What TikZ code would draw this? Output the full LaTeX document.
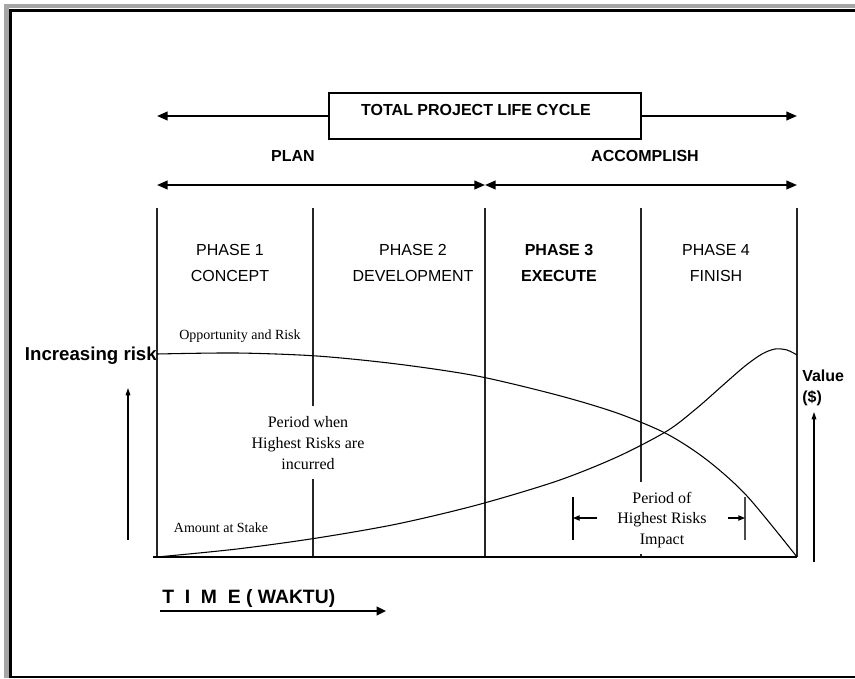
\documentclass[tikz,border=0pt]{standalone}
\usepackage{fontspec}
\setmainfont{Liberation Serif}
\newfontfamily\arialfont{Liberation Sans}
\usetikzlibrary{arrows.meta}

\begin{document}
\begin{tikzpicture}[x=0.75pt,y=-0.75pt,
  thinline/.style={line width=0.8pt},
  phaseline/.style={line width=0.8pt, black!85},
  curveline/.style={line width=0.8pt},
  lifearrow/.style={line width=1.5pt, -{Triangle[length=8pt,width=6.5pt]}},
  twinarrow/.style={line width=1.5pt, {Triangle[length=8pt,width=6.5pt]}-{Triangle[length=8pt,width=6.5pt]}},
  axisarrow/.style={line width=0.8pt, -{Triangle[length=5.5pt,width=3.5pt]}},
  dimarrow/.style={line width=0.8pt, -{Triangle[length=5pt,width=4pt]}},
  headtext/.style={font=\arialfont\bfseries\fontsize{12}{14}\selectfont, inner sep=0pt},
  phasetext/.style={font=\arialfont\fontsize{12}{19.5}\selectfont, align=center, inner sep=0pt},
  notetext/.style={font=\fontsize{12}{15.4}\selectfont, align=center, inner sep=0pt},
  smalltext/.style={font=\fontsize{10.5}{12}\selectfont, inner sep=0pt},
]
\useasboundingbox (0,0) rectangle (855,678);

% page frame
\fill[gray!70] (4,4) rectangle (855,8);
\fill[gray!70] (4,4) rectangle (9,678);
\draw[line width=2.2pt] (10.5,678) -- (10.5,10.5) -- (855,10.5);
\draw[line width=1.5pt] (9,677) -- (855,677);

% total project life cycle
\node[draw, thinline, minimum width=234pt, minimum height=34.5pt, inner sep=0pt] (tplc) at (485,116) {};
\node[headtext] (tplctext) at (476,110) {TOTAL PROJECT LIFE CYCLE};
\coordinate (lifeL) at (157,116);
\coordinate (lifeR) at (797,116);
\draw[lifearrow] (tplc.west) -- (lifeL);
\draw[lifearrow] (tplc.east) -- (lifeR);

% plan / accomplish
\node[headtext] (plan) at (293,156) {PLAN};
\node[headtext] (accomplish) at (645,156) {ACCOMPLISH};
\coordinate (paL) at (157,185);
\coordinate (paM) at (485,185);
\coordinate (paR) at (797,185);
\draw[twinarrow] (paL) -- (paM);
\draw[twinarrow] (paM) -- (paR);

% phase boundaries and time axis
\coordinate (b0t) at (157,208); \coordinate (b0b) at (157,557);
\coordinate (b1t) at (313,208); \coordinate (b1m) at (313,406);
\coordinate (b1n) at (313,479); \coordinate (b1b) at (313,557);
\coordinate (b2t) at (485,208); \coordinate (b2b) at (485,557);
\coordinate (b3t) at (641,208); \coordinate (b3m) at (641,482);
\coordinate (b3n) at (641,554); \coordinate (b3b) at (641,557);
\coordinate (b4t) at (797,208); \coordinate (b4b) at (797,557);
\coordinate (baseL) at (153,557);
\draw[phaseline] (b0t) -- (b0b);
\draw[phaseline] (b1t) -- (b1m);
\draw[phaseline] (b1n) -- (b1b);
\draw[phaseline] (b2t) -- (b2b);
\draw[phaseline] (b3t) -- (b3m);
\draw[phaseline] (b3n) -- (b3b);
\draw[phaseline] (b4t) -- (b4b);
\draw[thinline] (baseL) -- (b4b);

% phase titles
\node[phasetext] (ph1) at (230,263) {PHASE 1\\CONCEPT};
\node[phasetext] (ph2) at (413,263) {PHASE 2\\DEVELOPMENT};
\node[phasetext, font=\arialfont\bfseries\fontsize{12}{19.5}\selectfont] (ph3) at (559,263) {PHASE 3\\EXECUTE};
\node[phasetext] (ph4) at (716,263) {PHASE 4\\FINISH};

% opportunity and risk curve
\draw[curveline] plot[smooth, tension=0.5] coordinates
  {(157,354) (237,353) (317,356) (397,364) (477,376) (557,395) (617,413) (667,434) (707,460) (747,496) (797,557)};
% amount at stake curve
\draw[curveline] plot[smooth, tension=0.5] coordinates
  {(157,557) (237,549) (317,538) (397,524) (477,505) (557,481) (617,457) (667,431) (697,408) (722,386) (745,366) (762,354) (775,349) (787,350) (797,355)};

\node[smalltext] (opp) at (240,336) {Opportunity and Risk};
\node[smalltext] (stake) at (221,528) {Amount at Stake};

% risk and value axes
\node[font=\arialfont\bfseries\fontsize{14}{16}\selectfont, inner sep=0pt, anchor=east] (incrisk) at (157,356) {Increasing risk};
\coordinate (riskB) at (128,540);
\coordinate (riskT) at (128,388);
\draw[axisarrow] (riskB) -- (riskT);

\node[headtext, align=left, anchor=west, font=\arialfont\bfseries\fontsize{12}{15.75}\selectfont] (value) at (802,388) {Value\\(\$)};
\coordinate (valB) at (814,562);
\coordinate (valT) at (814,412);
\draw[axisarrow] (valB) -- (valT);

% highest risk periods
\node[notetext] (incurred) at (308,443) {Period when\\Highest Risks are\\incurred};
\node[notetext] (impact) at (662,520) {Period of\\Highest Risks\\Impact};
\coordinate (dimLt) at (573,497); \coordinate (dimLb) at (573,540);
\coordinate (dimRt) at (745,497); \coordinate (dimRb) at (745,540);
\coordinate (dimLa) at (597,518); \coordinate (dimLtip) at (573,518);
\coordinate (dimRa) at (728,518); \coordinate (dimRtip) at (745,518);
\draw[thinline] (dimLt) -- (dimLb);
\draw[thinline, black!70] (dimRt) -- (dimRb);
\draw[dimarrow] (dimLa) -- (dimLtip);
\draw[dimarrow] (dimRa) -- (dimRtip);

% time axis label
\node[font=\arialfont\bfseries\fontsize{14.5}{16}\selectfont, inner sep=0pt, anchor=west] (time) at (162,598) {T\ \ I\ \ M\ \ E ( WAKTU)};
\coordinate (timeL) at (160,611);
\coordinate (timeR) at (386,611);
\draw[line width=1.5pt, -{Triangle[length=7pt,width=6.5pt]}] (timeL) -- (timeR);

\end{tikzpicture}
\end{document}
